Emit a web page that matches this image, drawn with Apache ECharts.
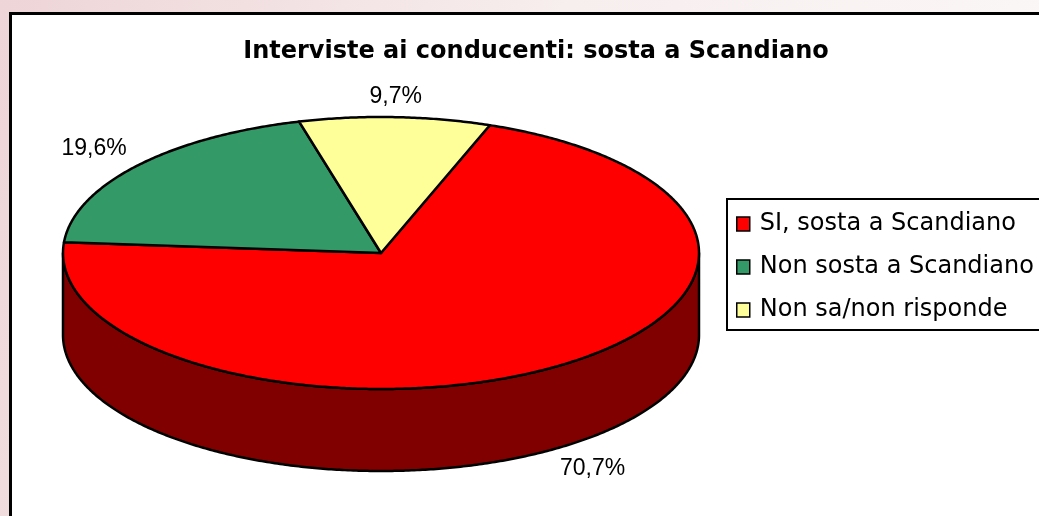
<!DOCTYPE html>
<html>
<head>
<meta charset="utf-8">
<script src="https://cdn.jsdelivr.net/npm/echarts@6/dist/echarts.min.js"></script>
<style>
html,body{margin:0;padding:0;background:#fff;}
#chart{width:1039px;height:516px;}
</style>
</head>
<body>
<div id="chart"></div>
<script>
// ---- data ----
const titleText = 'Interviste ai conducenti: sosta a Scandiano';
const categories = ['SI, sosta a Scandiano', 'Non sosta a Scandiano', 'Non sa/non risponde'];
const values = [70.7, 19.6, 9.7];
const valueLabels = ['70,7%', '19,6%', '9,7%'];
const topColors = ['#FF0000', '#339966', '#FFFF99'];
const sideColors = ['#800000', '#1A4D33', '#80804D'];

// ---- layout of the 3D pie (pixels) ----
const CX = 381, CY = 253, RX = 318, RY = 136, DEPTH = 82;
const START = 20 * Math.PI / 180;   // first slice angle, clockwise from 12 o'clock
const FONT = 'Liberation Sans, Arial, sans-serif';
const WIDE_FONT = 'DejaVu Sans, Liberation Sans, sans-serif';

const total = values.reduce((a, b) => a + b, 0);

function pt(t, dy) { return [CX + RX * Math.sin(t), CY - RY * Math.cos(t) + (dy || 0)]; }
function arcPts(a0, a1, dy) {
  const n = Math.max(2, Math.ceil(Math.abs(a1 - a0) / (Math.PI / 360)));
  const out = [];
  for (let k = 0; k <= n; k++) out.push(pt(a0 + (a1 - a0) * k / n, dy));
  return out;
}

function makeRender(idx) {
  return function (params, api) {
    const v = api.value(0);
    let before = 0;
    for (let k = 0; k < idx; k++) before += values[k];
    const a0 = START + before / total * Math.PI * 2;
    const a1 = a0 + v / total * Math.PI * 2;
    const children = [];
    // visible side wall: front half (pi/2 .. 3pi/2) modulo 2pi
    for (let off = -2; off <= 2; off++) {
      const f0 = Math.PI / 2 + off * 2 * Math.PI, f1 = 3 * Math.PI / 2 + off * 2 * Math.PI;
      const w0 = Math.max(a0, f0), w1 = Math.min(a1, f1);
      if (w1 > w0) {
        const topArc = arcPts(w0, w1, 0);
        const botArc = arcPts(w1, w0, DEPTH);
        children.push({
          type: 'polygon', z2: 1,
          shape: { points: topArc.concat(botArc) },
          style: { fill: sideColors[idx], stroke: '#000', lineWidth: 2.5, lineJoin: 'round' }
        });
      }
    }
    // top face
    children.push({
      type: 'polygon', z2: 5,
      shape: { points: [[CX, CY]].concat(arcPts(a0, a1, 0)) },
      style: { fill: topColors[idx], stroke: '#000', lineWidth: 2.5, lineJoin: 'round' }
    });
    // label outside the slice
    const am = (a0 + a1) / 2;
    const s = Math.sin(am), c = -Math.cos(am);
    const base = pt(am, c > 0 ? DEPTH : 0);
    children.push({
      type: 'text', z2: 10,
      x: base[0] + 13 * s, y: base[1] + 9 * c,
      style: {
        text: valueLabels[idx], fill: '#000', font: '23px ' + FONT,
        align: s > 0.3 ? 'left' : (s < -0.3 ? 'right' : 'center'),
        verticalAlign: c > 0.3 ? 'top' : (c < -0.3 ? 'bottom' : 'middle')
      }
    });
    return { type: 'group', children: children };
  };
}

const series = categories.map((name, i) => ({
  type: 'custom',
  name: name,
  coordinateSystem: 'none',
  itemStyle: { color: topColors[i] },
  renderItem: makeRender(i),
  data: [[values[i]]],
  silent: true
}));

const chart = echarts.init(document.getElementById('chart'), null, { renderer: 'canvas' });
chart.setOption({
  animation: false,
  title: {
    text: titleText,
    left: 531, top: 35, textAlign: 'center',
    textStyle: { fontFamily: WIDE_FONT, fontSize: 24, fontWeight: 'bold', color: '#000' }
  },
  legend: {
    orient: 'vertical', left: 736, top: 212,
    itemWidth: 13, itemHeight: 14, itemGap: 19, padding: 0,
    icon: 'rect',
    itemStyle: { borderColor: '#000', borderWidth: 1.5 },
    textStyle: { fontFamily: WIDE_FONT, fontSize: 24, lineHeight: 24, color: '#000', padding: [0, 0, 0, 5] },
    data: categories,
    selectedMode: false
  },
  graphic: [
    { type: 'rect', z: -10, silent: true,
      shape: { x: 0, y: 0, width: 1039, height: 516 },
      style: { fill: { type: 'linear', x: 0, y: 0, x2: 1, y2: 0.6,
        colorStops: [{ offset: 0, color: '#eed5d7' }, { offset: 0.5, color: '#f7eeee' }, { offset: 1, color: '#fbf8f7' }] } } },
    { type: 'rect', z: -9, silent: true,
      shape: { x: 10.5, y: 13.5, width: 1040, height: 520 },
      style: { fill: '#fff', stroke: '#000', lineWidth: 3 } },
    { type: 'rect', z: -8, silent: true,
      shape: { x: 727, y: 199, width: 400, height: 131 },
      style: { fill: '#fff', stroke: '#000', lineWidth: 2 } }
  ],
  series: series
});
</script>
</body>
</html>
